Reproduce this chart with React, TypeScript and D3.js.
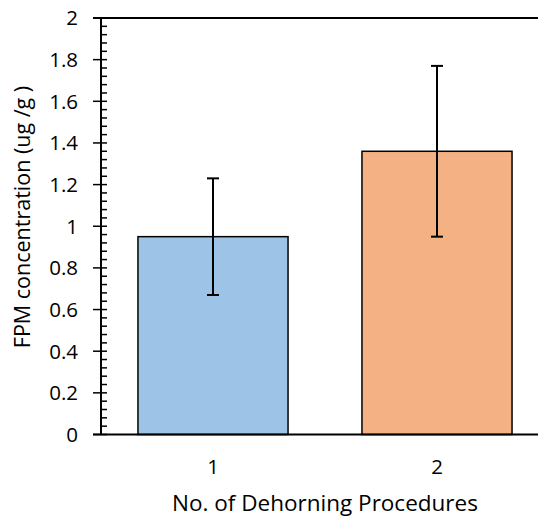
import React, { useEffect, useRef } from "react";
import * as d3 from "d3";

const categories = ["1", "2"];
const means = [0.95, 1.36];
const errors = [0.28, 0.41];
const barColors = ["#9DC3E6", "#F4B183"];
const yTicks = [0, 0.2, 0.4, 0.6, 0.8, 1, 1.2, 1.4, 1.6, 1.8, 2];

export default function App() {
  const ref = useRef<SVGSVGElement>(null);

  useEffect(() => {
    if (!ref.current) return;
    const svg = d3.select(ref.current);
    svg.selectAll("*").remove();

    const left = 101;
    const top = 18;
    const bottom = 434.5;
    const right = 549;
    const font = "'Open Sans', sans-serif";

    const x = d3.scaleBand<string>().domain(categories).range([left, right]).paddingInner(0.33).paddingOuter(0.165);
    const y = d3.scaleLinear().domain([0, 2]).range([bottom, top]);

    // bars
    svg
      .selectAll("rect.bar")
      .data(categories)
      .join("rect")
      .attr("class", "bar")
      .attr("x", (d) => x(d)!)
      .attr("width", x.bandwidth())
      .attr("y", (d, i) => y(means[i]))
      .attr("height", (d, i) => bottom - y(means[i]))
      .attr("fill", (d, i) => barColors[i])
      .attr("stroke", "#000")
      .attr("stroke-width", 1.5);

    // error bars
    const eb = svg
      .selectAll("g.err")
      .data(categories)
      .join("g")
      .attr("class", "err")
      .attr("stroke", "#000")
      .attr("stroke-width", 2);
    eb.append("line")
      .attr("x1", (d) => x(d)! + x.bandwidth() / 2)
      .attr("x2", (d) => x(d)! + x.bandwidth() / 2)
      .attr("y1", (d, i) => y(means[i] + errors[i]))
      .attr("y2", (d, i) => y(means[i] - errors[i]));
    [1, -1].forEach((s) => {
      eb.append("line")
        .attr("x1", (d) => x(d)! + x.bandwidth() / 2 - 6)
        .attr("x2", (d) => x(d)! + x.bandwidth() / 2 + 6)
        .attr("y1", (d, i) => y(means[i] + s * errors[i]))
        .attr("y2", (d, i) => y(means[i] + s * errors[i]));
    });

    // minor ticks (inside)
    const minor = d3.range(0, 2.0001, 0.04).filter((v) => Math.abs(v * 5 - Math.round(v * 5)) > 1e-6);
    svg
      .selectAll("line.minor")
      .data(minor)
      .join("line")
      .attr("class", "minor")
      .attr("x1", left)
      .attr("x2", left + 6)
      .attr("y1", (d) => y(d))
      .attr("y2", (d) => y(d))
      .attr("stroke", "#000")
      .attr("stroke-width", 1.5);

    // major ticks (cross the axis)
    svg
      .selectAll("line.major")
      .data(yTicks)
      .join("line")
      .attr("class", "major")
      .attr("x1", left - 8)
      .attr("x2", left + 6)
      .attr("y1", (d) => y(d))
      .attr("y2", (d) => y(d))
      .attr("stroke", "#000")
      .attr("stroke-width", 1.5);

    svg
      .selectAll("text.ytick")
      .data(yTicks)
      .join("text")
      .attr("class", "ytick")
      .attr("x", 78)
      .attr("y", (d) => y(d))
      .attr("dy", "0.36em")
      .attr("text-anchor", "end")
      .attr("font-family", font)
      .attr("font-size", 20.5)
      .text((d) => String(d));

    // axis lines and top frame
    svg.append("line").attr("x1", left).attr("x2", left).attr("y1", top).attr("y2", bottom).attr("stroke", "#000").attr("stroke-width", 2);
    svg.append("line").attr("x1", left - 8).attr("x2", 538).attr("y1", bottom).attr("y2", bottom).attr("stroke", "#000").attr("stroke-width", 2);
    svg.append("line").attr("x1", left - 8).attr("x2", 538).attr("y1", top).attr("y2", top).attr("stroke", "#000").attr("stroke-width", 2);

    svg
      .selectAll("text.xtick")
      .data(categories)
      .join("text")
      .attr("class", "xtick")
      .attr("x", (d) => x(d)! + x.bandwidth() / 2)
      .attr("y", 474)
      .attr("text-anchor", "middle")
      .attr("font-family", font)
      .attr("font-size", 20.5)
      .text((d) => d);

    svg
      .append("text")
      .attr("x", 325)
      .attr("y", 511)
      .attr("text-anchor", "middle")
      .attr("font-family", font)
      .attr("font-size", 22.5)
      .text("No. of Dehorning Procedures");

    svg
      .append("text")
      .attr("transform", `translate(30,217) rotate(-90)`)
      .attr("text-anchor", "middle")
      .attr("font-family", font)
      .attr("font-size", 21.5)
      .text("FPM concentration (ug /g )");
  }, []);

  return (
    <svg
      ref={ref}
      width={538}
      height={517}
      style={{ position: "absolute", left: 0, top: 0, background: "#fff" }}
    />
  );
}
